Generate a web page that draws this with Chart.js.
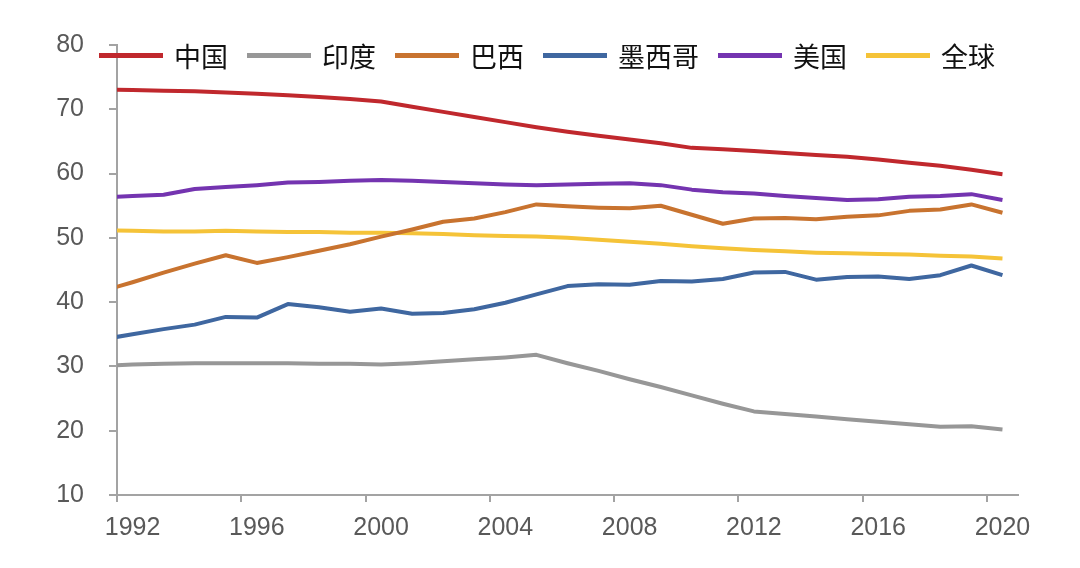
<!DOCTYPE html>
<html>
<head>
<meta charset="utf-8">
<script src="https://cdn.jsdelivr.net/npm/chart.js@4.4.1/dist/chart.umd.min.js"></script>
<style>
  html, body { margin: 0; padding: 0; background: #ffffff; }
  #wrap { position: relative; width: 1080px; height: 568px; }
  #legend { position: absolute; left: 99px; top: 36px; display: flex; align-items: center;
            font-family: "Noto Sans CJK SC", "Noto Sans", sans-serif; font-size: 27px; color: #111; }
  .item { display: flex; align-items: center; margin-right: 19px; }
  .mark { width: 64px; height: 5px; margin-right: 11px; }
</style>
</head>
<body>
<div id="wrap">
  <canvas id="c" width="1080" height="568"></canvas>
  <div id="legend"></div>
</div>
<script>
// Years (1991 sits just left of the axis start and is clipped, as in the source)
const years = ['1991','1992','1993','1994','1995','1996','1997','1998','1999','2000',
               '2001','2002','2003','2004','2005','2006','2007','2008','2009','2010',
               '2011','2012','2013','2014','2015','2016','2017','2018','2019','2020'];
const xTickLabels = ['1992','1996','2000','2004','2008','2012','2016','2020'];
const yTickValues = [10, 20, 30, 40, 50, 60, 70, 80];

const seriesNames = ['中国', '印度', '巴西', '墨西哥', '美国', '全球'];
const seriesColors = ['#C0282D', '#979797', '#C8732F', '#3F67A0', '#7434B0', '#F5C338'];

const china  = [73.1,73.0,72.9,72.8,72.6,72.4,72.2,71.9,71.6,71.2,70.4,69.6,68.8,68.0,67.2,66.5,65.9,65.3,64.7,64.0,63.8,63.5,63.2,62.9,62.6,62.2,61.7,61.2,60.6,59.9];
const india  = [30.1,30.3,30.4,30.5,30.5,30.5,30.5,30.4,30.4,30.3,30.5,30.8,31.1,31.4,31.8,30.5,29.3,28.0,26.8,25.5,24.2,23.0,22.6,22.2,21.8,21.4,21.0,20.6,20.7,20.2];
const brazil = [41.7,43.1,44.6,46.0,47.3,46.1,47.0,48.0,49.0,50.2,51.3,52.5,53.0,54.0,55.2,54.9,54.7,54.6,55.0,53.6,52.2,53.0,53.1,52.9,53.3,53.5,54.2,54.4,55.2,53.9];
const mexico = [34.2,35.0,35.8,36.5,37.7,37.6,39.7,39.2,38.5,39.0,38.2,38.3,38.9,39.9,41.2,42.5,42.8,42.7,43.3,43.2,43.6,44.6,44.7,43.5,43.9,44.0,43.6,44.2,45.7,44.2];
const usa    = [56.3,56.5,56.7,57.6,57.9,58.2,58.6,58.7,58.9,59.0,58.9,58.7,58.5,58.3,58.2,58.3,58.4,58.5,58.2,57.5,57.1,56.9,56.5,56.2,55.9,56.0,56.4,56.5,56.8,55.9];
const world  = [51.2,51.1,51.0,51.0,51.1,51.0,50.9,50.9,50.8,50.8,50.7,50.6,50.4,50.3,50.2,50.0,49.7,49.4,49.1,48.7,48.4,48.1,47.9,47.7,47.6,47.5,47.4,47.2,47.1,46.8];

const seriesData = [china, india, brazil, mexico, usa, world];

const datasets = seriesNames.map((name, i) => ({
  label: name,
  data: seriesData[i],
  borderColor: seriesColors[i],
  backgroundColor: seriesColors[i],
  borderWidth: 4,
  pointRadius: 0,
  tension: 0,
  borderJoinStyle: 'round',
  clip: {left: 0, top: 20, right: 20, bottom: 20}
}));

const axisColor = '#A3A3A3';
const tickFont = { family: '"Liberation Sans", Arial, sans-serif', size: 25 };

new Chart(document.getElementById('c'), {
  type: 'line',
  data: { labels: years, datasets },
  options: {
    responsive: false,
    animation: false,
    events: [],
    layout: { padding: { top: 45, right: 62, left: 0, bottom: 0 } },
    plugins: { legend: { display: false }, tooltip: { enabled: false } },
    scales: {
      x: {
        type: 'category',
        min: '1992',
        offset: true,
        grid: {
          offset: true,
          drawOnChartArea: false,
          drawTicks: true,
          tickLength: 7,
          lineWidth: 2,
          color: (ctx) => {
            if (!ctx.tick) return 'transparent';
            return xTickLabels.includes(years[ctx.tick.value]) ? axisColor : 'transparent';
          }
        },
        border: { color: axisColor, width: 2 },
        ticks: {
          autoSkip: false,
          maxRotation: 0,
          minRotation: 0,
          padding: 11,
          color: '#595959',
          font: tickFont,
          callback: (val) => xTickLabels.includes(years[val]) ? years[val] : ''
        },
        afterFit: (s) => { s.height = 73; }
      },
      y: {
        min: 10,
        max: 80,
        afterBuildTicks: (s) => { s.ticks = yTickValues.map(v => ({ value: v })); },
        grid: {
          drawOnChartArea: false,
          drawTicks: true,
          tickLength: 8,
          lineWidth: 2,
          color: axisColor
        },
        border: { color: axisColor, width: 2 },
        ticks: { padding: 25, color: '#595959', font: tickFont },
        afterFit: (s) => { s.width = 117; }
      }
    }
  }
});

// HTML legend built from the series arrays
const lg = document.getElementById('legend');
seriesNames.forEach((name, i) => {
  const it = document.createElement('div');
  it.className = 'item';
  const m = document.createElement('div');
  m.className = 'mark';
  m.style.background = seriesColors[i];
  const t = document.createElement('span');
  t.textContent = name;
  it.appendChild(m); it.appendChild(t);
  lg.appendChild(it);
});
</script>
</body>
</html>
